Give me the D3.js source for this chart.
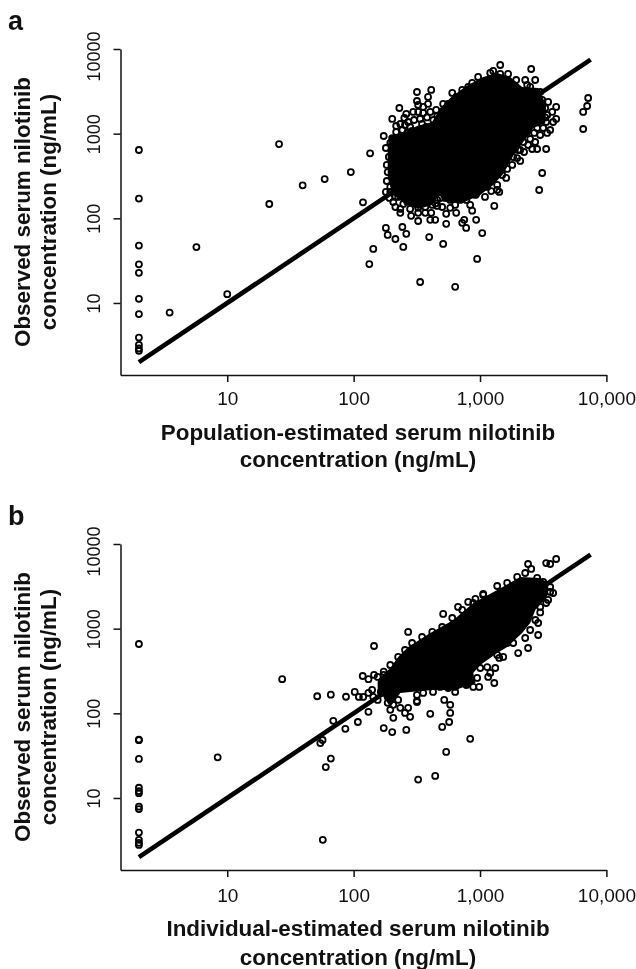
<!DOCTYPE html>
<html>
<head>
<meta charset="utf-8">
<script src="https://cdn.jsdelivr.net/npm/d3@7"></script>
<style>
  html, body { margin: 0; padding: 0; background: #fff; }
  svg { display: block; filter: blur(0.55px); }
  text { font-family: "Liberation Sans", Arial, sans-serif; fill: #111; }
</style>
</head>
<body>
<div id="chart"></div>
<script>
var xTicks = [10, 100, 1000, 10000];
var yTicks = [10, 100, 1000, 10000];
var refLine = [2, 7500];

// values at the lower limit, all plotted at x = 2
var lowA = [641, 171, 47.7, 28.6, 22.7, 11.2, 7.4, 3.9, 3.2, 2.9, 2.72];
var lowB = [659, 49, 48.2, 28.9, 13.2, 12.05, 11.4, 7.9, 7.4, 3.9, 3.2, 2.95, 2.79];

// circles that can be told apart: [estimated, observed] in ng/mL
var pointsA = [[3.5,7.7],[5.7,45.8],[10,12.7],[21.5,147.6],[25.7,753],[39.5,245],[59,291],[95,352],[118.6,154.5],[135,585],[133,28.8],[143,43.5],
  [336,17.7],[636,15.5],[949,33.1],[1041,67],[511,49.8],[396,60],[247,45.9],[214,57],[186,63.7],[180,77],[243,79],[261,65.5],[234,116],[285,107],[324,93],[411,116],[442,96],[540,113],[648,116],[540,86],[723,88.5],[777,77],[750,96],[867,123],[932,96],[1297,140],[459,140],
  [2939,216],[3105,343],[1420,205],[932,194],[1227,210],[2080,476],[1968,515],[1640,383],[3338,659],[2832,659],[2587,659],[3398,1019],[3162,1166],[2495,865],[2685,1019],[4005,1492],[3725,1804],[4005,2067],[3280,1553],[3280,2010],[3105,2500],
  [6552,1135],[6552,1804],[7043,2122],[7173,2638],[2541,5806],[1445,6473],[1272,5501],[1445,5071],[1471,4305],[1119,4189],[867,3969],[806,3560],[603,3025],[648,2713],[511,2243],[411,3281],[388,2713],[317,3107],[317,2432],[230,2010],[355,2067],[355,1756],[296,1804],[261,1709],[202,1492],[270,1373],[336,1492],[459,1617],[450,1337],[419,1199],[217,1046],[173,938],[266,1019],[180,677],[183,427],[183,276],[180,205],[195,235],[206,156],[214,136],[234,129],[324,116],[404,96],[369,116],[2361,3758],[2495,3560],
  [920,189],[1140,235],[1368,248],[1498,325],[1831,530],[2004,641],[2197,797],[2361,1046],[2832,1166],[2994,1553],[3398,1663],[530,174],[697,165],[581,165],[780,165],[419,144],[324,133],[266,156],[225,179],[195,205],[186,352],[190,530],[195,776],[234,888],[296,1019],[381,1105],[484,1373],[549,1905],[659,2500],[836,3107],[1060,3969],[1368,4189],[1734,3758],[2080,3107],[2832,3025],
  [234,1300],[252,1532],[280,1199],[301,1450],[324,1804],[348,1300],[381,1553],[404,1804],[427,1450],[467,1105],[243,1105],[202,888],[290,1075],[375,1199],[324,2183],[388,2243],[450,1905],[521,1804],[559,2243],[255,1266],[217,1232],[484,1450],
  [723,3281],[966,4676],[1205,5213],[1668,5071],[1933,4305],[2278,4305],[2732,4305],[2994,3107],[3460,2370],[3790,1373],[3592,1105],[2994,964],[2405,735],[2232,607],[1798,427],[1610,300],[1368,216],[1095,179],[836,144],[636,144],[581,133],[502,136],[369,136],[280,129],[247,148],[214,179],[192,174],[2080,641],[2640,1373],[3338,1373],[2732,797],[1899,677],
  [459,165],[445,150],[484,174]];

var pointsB = [[8.4,30.2],[27.2,253],[51.5,159],[66,166],[87,157],[69,81.5],[86,65.5],[56.8,48.4],[54.5,44.5],[66,29.2],[60.2,23.2],[57,3.2],
  [108,79],[131,104],[173,67],[202,60],[261,63.7],[502,69],[836,50],[540,35],[324,16.5],[442,18.2],[404,98.6],[206,88.5],[280,91],[255,101],[270,116],[234,116],[317,140],[195,110],[186,133],[155,144],[131,174],[119,156],[102,179],[110,156],[118,276],[131,253],[145,284],[145,624],[270,914],[511,1492],[670,1804],[806,2067],[920,2243],[1060,2570],[1368,3190],[1640,3470],
  [2400,5806],[2541,5072],[3338,5960],[3592,5806],[4005,6651],[3790,2638],[3592,2713],[3338,2010],[2994,1553],[2885,1166],[2885,842],[2400,591],[2004,515],[1526,463],[1420,451],[1297,228],[1320,343],[1205,300],[985,205],[884,205],[780,216],[636,179],[581,126],[581,101],[570,79],[521,144],[317,165],[484,205],
  [173,284],[195,372],[225,463],[255,560],[290,677],[348,797],[419,914],[502,1046],[603,1337],[723,1663],[884,2010],[1060,2500],[1968,4080],[2278,4546],[2832,3969],[3162,3560],[3592,3107],[3460,2183],[2994,1804],[2740,1266],[2495,964],[2278,776],[1831,677],[1640,677],[1368,489],[1140,352],[1004,343],[1160,269],[949,262],[780,228],[636,205],[559,199],[425,179],[355,174],[317,136],[225,144],[206,126],[186,156],[164,179],[143,156],[140,189],[155,269],[173,310]];

// outline of the part where the circles overplot into solid black and single
// points can no longer be read
var coreA = [[186,641],[190,938],[255,1046],[317,1232],[419,1373],[484,2010],[581,2638],[777,3655],[1060,4676],[1368,5213],[1734,4676],[2155,3560],[2885,3470],[3338,2183],[3280,1337],[2640,1166],[2197,797],[1831,549],[1526,333],[1272,248],[1004,189],[723,152],[530,158],[472,190],[419,144],[324,129],[255,148],[202,194],[186,310]];
var coreB = [[155,174],[155,248],[195,343],[225,463],[270,607],[404,888],[616,1266],[884,2010],[1368,2860],[2080,4080],[2994,3969],[3460,3470],[3398,2370],[2740,1663],[2495,1166],[2155,888],[1640,607],[1368,515],[1004,372],[884,300],[920,228],[636,189],[425,189],[280,179],[234,174],[195,119],[173,156]];

var xTitleA = ["Population-estimated serum nilotinib", "concentration (ng/mL)"];
var xTitleB = ["Individual-estimated serum nilotinib", "concentration (ng/mL)"];
var yTitle = ["Observed serum nilotinib", "concentration (ng/mL)"];

var width = 636, height = 969;

var svg = d3.select("#chart").append("svg")
  .attr("width", width)
  .attr("height", height);

var x = d3.scaleLog().domain([1.43, 10000]).range([120.5, 606.4]);
var y = d3.scaleLog().domain([1.41, 10000]).range([326, 0]);

function drawPanel(top, letter, low, points, core, xTitle, titleYs, tickLabelY) {
  var g = svg.append("g").attr("transform", "translate(0," + top + ")");

  svg.append("text")
    .attr("x", 8)
    .attr("y", top - 19)
    .style("font-size", "27px")
    .style("font-weight", "bold")
    .text(letter);

  var xAxis = g.append("g")
    .attr("transform", "translate(0,326)")
    .call(d3.axisBottom(x).tickValues(xTicks).tickFormat(d3.format(",")).tickSize(7).tickSizeOuter(0));
  var yAxis = g.append("g")
    .attr("transform", "translate(120.5,0)")
    .call(d3.axisLeft(y).tickValues(yTicks).tickFormat(function(d) { return d; }).tickSize(7).tickSizeOuter(0));

  xAxis.selectAll("path, line").attr("stroke", "#111").attr("stroke-width", 1.5);
  yAxis.selectAll("path, line").attr("stroke", "#111").attr("stroke-width", 1.5);
  xAxis.selectAll("text")
    .attr("y", tickLabelY)
    .style("font-size", "19px")
    .style("font-family", "'Liberation Sans'");
  yAxis.selectAll("text")
    .attr("x", 0).attr("dy", 0)
    .attr("text-anchor", "middle")
    .attr("transform", function(d) {
      return "translate(-21," + (d == 10000 ? 7 : 0) + ") rotate(-90)";
    })
    .style("font-size", "18px")
    .style("font-family", "'Liberation Sans'");

  var coreLine = d3.line()
    .x(function(d) { return x(d[0]); })
    .y(function(d) { return y(d[1]); })
    .curve(d3.curveLinearClosed);

  g.append("path").attr("d", coreLine(core)).attr("fill", "#000");

  g.append("line")
    .attr("x1", x(refLine[0])).attr("y1", y(refLine[0]))
    .attr("x2", x(refLine[1])).attr("y2", y(refLine[1]))
    .attr("stroke", "#000")
    .attr("stroke-width", 4.6);

  var circles = points.concat(low.map(function(v) { return [2, v]; }));
  g.selectAll("circle")
    .data(circles)
    .enter().append("circle")
    .attr("cx", function(d) { return x(d[0]); })
    .attr("cy", function(d) { return y(d[1]); })
    .attr("r", 3)
    .attr("fill", "none")
    .attr("stroke", "#000")
    .attr("stroke-width", 1.8);

  svg.selectAll(null)
    .data(xTitle)
    .enter().append("text")
    .attr("x", 358)
    .attr("y", function(d, i) { return titleYs[i]; })
    .attr("text-anchor", "middle")
    .style("font-size", "22.4px")
    .style("font-weight", "bold")
    .text(function(d) { return d; });

  svg.selectAll(null)
    .data(yTitle)
    .enter().append("text")
    .attr("transform", function(d, i) { return "translate(" + (30 + i * 26) + "," + (top + 163) + ") rotate(-90)"; })
    .attr("text-anchor", "middle")
    .style("font-size", "22.4px")
    .style("font-weight", "bold")
    .text(function(d) { return d; });
}

drawPanel(49, "a", lowA, pointsA, coreA, xTitleA, [440, 467], 17);
drawPanel(544, "b", lowB, pointsB, coreB, xTitleB, [936, 965], 19);
</script>
</body>
</html>
